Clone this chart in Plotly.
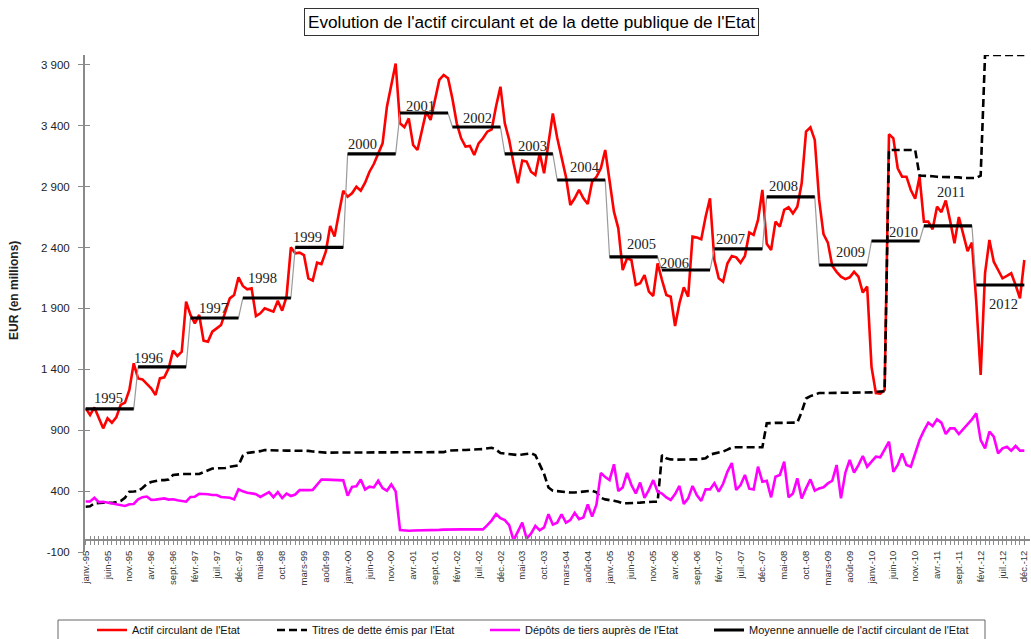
import plotly.graph_objects as go

# ---------------- DATA ----------------
FR_MONTHS = ["janv.", "févr.", "mars", "avr.", "mai", "juin", "juil.", "août",
             "sept.", "oct.", "nov.", "déc."]
YEARS = [1995, 1996, 1997, 1998, 1999, 2000, 2001, 2002, 2003,
         2004, 2005, 2006, 2007, 2008, 2009, 2010, 2011, 2012]
months = [f"{FR_MONTHS[i % 12]}-{(YEARS[0] + i // 12) % 100:02d}" for i in range(12 * len(YEARS))]

# Actif circulant de l'Etat (EUR millions), monthly Jan-1995 .. Dec-2012
actif = [
    1080, 1024, 1087, 997, 915, 997, 961, 1005, 1107, 1126, 1230, 1449,
    1325, 1317, 1284, 1243, 1189, 1325, 1334, 1408, 1553, 1509, 1544, 1955,
    1846, 1777, 1846, 1635, 1627, 1709, 1736, 1763, 1873, 1982, 2010, 2155,
    2084, 2056, 2064, 1837, 1859, 1900, 1887, 1873, 1963, 1881, 1996, 2401,
    2352, 2357, 2338, 2147, 2128, 2275, 2264, 2366, 2576, 2489, 2680, 2866,
    2817, 2845, 2899, 2866, 2932, 3022, 3085, 3178, 3255, 3556, 3720, 3910,
    3419, 3387, 3460, 3241, 3200, 3351, 3515, 3447, 3611, 3775, 3816, 3789,
    3620, 3419, 3296, 3228, 3233, 3159, 3255, 3296, 3351, 3370, 3560, 3720,
    3419, 3283, 3091, 2927, 3113, 3105, 3022, 2995, 3173, 3009, 3255, 3500,
    3300, 3150, 2981, 2749, 2804, 2872, 2804, 2757, 2940, 2980, 3050, 3200,
    2927, 2694, 2557, 2215, 2311, 2297, 2092, 2106, 2174, 2037, 2002, 2270,
    2133, 2010, 1996, 1755, 1941, 2073, 1996, 2489, 2481, 2467, 2653, 2804,
    2297, 2147, 2119, 2270, 2330, 2319, 2275, 2330, 2522, 2503, 2626, 2872,
    2430, 2379, 2612, 2571, 2708, 2730, 2680, 2735, 2927, 3351, 3386, 3283,
    2790, 2510, 2440, 2250, 2200, 2160, 2140, 2155, 2200, 2160, 2030, 2080,
    1420, 1205, 1200, 1230, 3330, 3296, 3050, 2981, 2981, 2872, 2800, 2981,
    2612, 2612, 2549, 2735, 2690, 2785, 2620, 2434, 2650, 2510, 2370, 2440,
    1950, 1353, 2188, 2461, 2283, 2215, 2147, 2166, 2188, 2092, 1983, 2297,
]

# Titres de dette émis par l'Etat
titres = [
    272, 275, 300, 305, 305, 305, 303, 310, 318, 345, 395, 397,
    400, 425, 458, 475, 483, 490, 490, 495, 532, 538, 540, 540,
    540, 540, 540, 555, 572, 585, 587, 587, 590, 600, 605, 612,
    690, 712, 718, 722, 728, 737, 735, 732, 732, 732, 732, 732,
    732, 730, 730, 730, 725, 720, 716, 716, 716, 716, 716, 716,
    716, 716, 716, 716, 716, 716, 716, 716, 716, 716, 716, 716,
    716, 716, 716, 716, 716, 716, 716, 716, 716, 716, 720, 732,
    735, 737, 737, 737, 737, 737, 743, 745, 748, 756, 740, 712,
    708, 703, 698, 696, 700, 705, 710, 695, 620, 540, 430, 403,
    400, 395, 392, 388, 388, 392, 398, 402, 403, 390, 345, 332,
    328, 320, 313, 300, 300, 300, 303, 305, 308, 312, 313, 313,
    696, 670, 660, 658, 660, 660, 660, 660, 660, 665, 669, 700,
    708, 715, 725, 740, 758, 760, 760, 760, 760, 760, 760, 760,
    956, 960, 960, 960, 960, 960, 960, 962, 1050, 1160, 1180, 1195,
    1205, 1205, 1205, 1205, 1205, 1205, 1205, 1205, 1205, 1205, 1205, 1205,
    1210, 1215, 1215, 1220, 3200, 3200, 3200, 3200, 3200, 3200, 3200, 2990,
    2990, 2985, 2985, 2980, 2980, 2980, 2975, 2975, 2975, 2970, 2970, 2970,
    2970, 2990, 3980, 3980, 3980, 3980, 3980, 3980, 3980, 3980, 3980, 3980,
]

# Dépôts de tiers auprès de l'Etat
depots = [
    315, 315, 345, 310, 312, 305, 300, 294, 285, 278, 292, 294,
    332, 350, 355, 328, 330, 335, 340, 330, 333, 325, 318, 313,
    352, 354, 378, 378, 374, 368, 368, 352, 351, 345, 332, 415,
    398, 386, 381, 375, 352, 375, 392, 350, 392, 343, 380, 360,
    372, 408, 406, 408, 410, 455, 495, 494, 491, 491, 491, 488,
    362, 435, 440, 495, 412, 436, 430, 485, 425, 403, 455, 398,
    80, 75, 75, 76, 76, 77, 78, 80, 80, 82, 84, 86,
    86, 86, 86, 86, 86, 86, 86, 86, 120, 160, 212, 178,
    162, 120, -5, 67, 141, 10, 50, 115, 78, 102, 210, 125,
    141, 210, 141, 162, 222, 170, 184, 290, 190, 290, 550, 515,
    490, 620, 400, 430, 550, 450, 381, 470, 345, 410, 490, 395,
    380, 348, 327, 375, 442, 295, 340, 442, 365, 320, 414, 414,
    465, 395, 460, 560, 630, 409, 450, 532, 420, 414, 600, 477,
    485, 349, 518, 532, 641, 349, 381, 505, 340, 422, 496, 403,
    422, 431, 463, 485, 614, 340, 551, 655, 551, 614, 688, 600,
    641, 682, 677, 737, 806, 559, 614, 710, 614, 600, 710, 819,
    896, 962, 934, 989, 962, 868, 915, 915, 868, 907, 951, 989,
    1038, 819, 751, 888, 847, 710, 751, 764, 732, 770, 732, 732,
]

# Moyenne annuelle de l'actif circulant de l'Etat (one value per year)
moyenne = [1075, 1420, 1821, 1985, 2400, 3168, 3504, 3389, 3168,
           2954, 2322, 2215, 2388, 2815, 2256, 2453, 2577, 2092]

y_ticks = [-100, 400, 900, 1400, 1900, 2400, 2900, 3400, 3900]
y_ticktext = ["-100", "400", "900", "1 400", "1 900", "2 400", "2 900", "3 400", "3 900"]

# ---------------- LAYOUT GEOMETRY ----------------
W, H = 1031, 639
ML, MR, MT, MB = 85, 1, 55, 87
PW, PH = W - ML - MR, H - MT - MB
Y_RANGE = [-100, 3980]
X_RANGE = [-0.16, 216.3]


def px_x(px):
    return (px - ML) / PW


def px_y(py):
    return (H - MB - py) / PH


zero_pos = (0 - Y_RANGE[0]) / (Y_RANGE[1] - Y_RANGE[0])

# year label offsets (months from year start, pixels above the average line)
label_dx = [1.4, -1.4, 1.4, 0.8, -1.0, -0.4, 0.8, 2.0, 2.6, 2.4, 3.6, -0.8, -0.1, 0.0, 3.5, 3.6, 2.5, 2.4]
label_dy = [11, 9, 10, 20, 10, 10, 7, 9, 8, 13, 13, 7, 10, 11, 13, 9, 34, -19]

# left edge (px) of each legend entry text
legend_text_px = [132, 312, 525, 749]

FONT = "Liberation Sans, Arial, sans-serif"

idx = list(range(len(months)))
avg_monthly = [moyenne[i // 12] for i in idx]

seg_x, seg_y = [], []
for k, v in enumerate(moyenne):
    seg_x += [12 * k, 12 * k + 11, None]
    seg_y += [v, v, None]

fig = go.Figure()
fig.add_trace(go.Scatter(x=idx, y=actif, mode="lines", name="Actif circulant de l'Etat",
                         legend="legend",
                         line=dict(color="#ff0000", width=2.6), hovertext=months))
fig.add_trace(go.Scatter(x=idx, y=titres, mode="lines", name="Titres de dette émis par l'Etat",
                         legend="legend2",
                         line=dict(color="#000000", width=2.6, dash="8px,4px"), hovertext=months))
fig.add_trace(go.Scatter(x=idx, y=depots, mode="lines", name="Dépôts de tiers auprès de l'Etat",
                         legend="legend3",
                         line=dict(color="#ff00ff", width=2.6), hovertext=months))
fig.add_trace(go.Scatter(x=idx, y=avg_monthly, mode="lines", showlegend=False,
                         line=dict(color="#9a9a9a", width=1.2), xaxis="x2", yaxis="y2",
                         hoverinfo="skip"))
fig.add_trace(go.Scatter(x=seg_x, y=seg_y, mode="lines",
                         name="Moyenne annuelle de l'actif circulant de l'Etat",
                         legend="legend4",
                         line=dict(color="#000000", width=3.2), xaxis="x2", yaxis="y2"))

annotations = []
for k, yr in enumerate(YEARS):
    annotations.append(dict(x=12 * k + label_dx[k], y=moyenne[k], xref="x", yref="y",
                            text=str(yr), showarrow=False, xanchor="left", yanchor="middle",
                            yshift=label_dy[k],
                            font=dict(family="Liberation Serif, Times New Roman, serif",
                                      size=14.5, color="#222222")))
annotations.append(dict(x=px_x(531), y=px_y(22), xref="paper", yref="paper",
                        text="Evolution de l'actif circulant et de la dette publique de l'Etat",
                        showarrow=False, xanchor="center", yanchor="middle",
                        bordercolor="#333333", borderwidth=1, borderpad=3,
                        font=dict(family=FONT, size=17.2, color="#000000")))
annotations.append(dict(x=px_x(14), y=px_y(291), xref="paper", yref="paper",
                        text="<b>EUR (en millions)</b>", showarrow=False, textangle=-90,
                        xanchor="center", yanchor="middle",
                        font=dict(family=FONT, size=12, color="#222222")))

tick_text_x = [months[i] if i % 5 == 0 else "" for i in idx]


def legend_at(text_px):
    return dict(orientation="h", x=px_x(text_px - 40), y=px_y(630), xanchor="left",
                yanchor="middle", font=dict(family=FONT, size=11, color="#111111"),
                bgcolor="rgba(0,0,0,0)", borderwidth=0)


fig.update_layout(
    width=W, height=H,
    margin=dict(l=ML, r=MR, t=MT, b=MB, autoexpand=False),
    paper_bgcolor="white", plot_bgcolor="white",
    font=dict(family=FONT, color="#222222"),
    showlegend=True,
    legend=legend_at(legend_text_px[0]),
    legend2=legend_at(legend_text_px[1]),
    legend3=legend_at(legend_text_px[2]),
    legend4=legend_at(legend_text_px[3]),
    xaxis=dict(range=X_RANGE, anchor="free", position=zero_pos, showgrid=False, zeroline=False,
               showline=True, linecolor="#8a8a8a", linewidth=2,
               tickmode="array", tickvals=idx, ticktext=tick_text_x, tickangle=-90,
               ticks="outside", ticklen=4, tickwidth=1, tickcolor="#8a8a8a",
               ticklabeloverflow="allow", ticklabelstandoff=2,
               tickfont=dict(family=FONT, size=9.5, color="#333333")),
    xaxis2=dict(range=X_RANGE, anchor="free", position=zero_pos, overlaying="x",
                showgrid=False, zeroline=False, showline=False,
                tickmode="array", tickvals=idx, ticktext=["" for _ in idx],
                ticks="inside", ticklen=4, tickwidth=1, tickcolor="#8a8a8a"),
    yaxis=dict(range=Y_RANGE, showgrid=False, zeroline=False, showline=True,
               linecolor="#8a8a8a", linewidth=2,
               tickmode="array", tickvals=y_ticks, ticktext=y_ticktext,
               ticks="outside", ticklen=5, tickwidth=1, tickcolor="#8a8a8a",
               ticklabelstandoff=6,
               tickfont=dict(family=FONT, size=11.5, color="#222222")),
    yaxis2=dict(range=Y_RANGE, overlaying="y", side="left", showgrid=False, zeroline=False,
                showline=False, tickmode="array", tickvals=y_ticks,
                ticktext=["" for _ in y_ticks],
                ticks="inside", ticklen=5, tickwidth=1, tickcolor="#8a8a8a"),
    annotations=annotations,
    shapes=[dict(type="rect", xref="paper", yref="paper",
                 x0=px_x(58), x1=px_x(985), y0=px_y(645), y1=px_y(620),
                 line=dict(color="#666666", width=1), fillcolor="rgba(0,0,0,0)")],
)

fig.write_html("out.html", config={"displayModeBar": False},
               post_script="document.body.style.margin='0px';document.body.style.padding='0px';")
